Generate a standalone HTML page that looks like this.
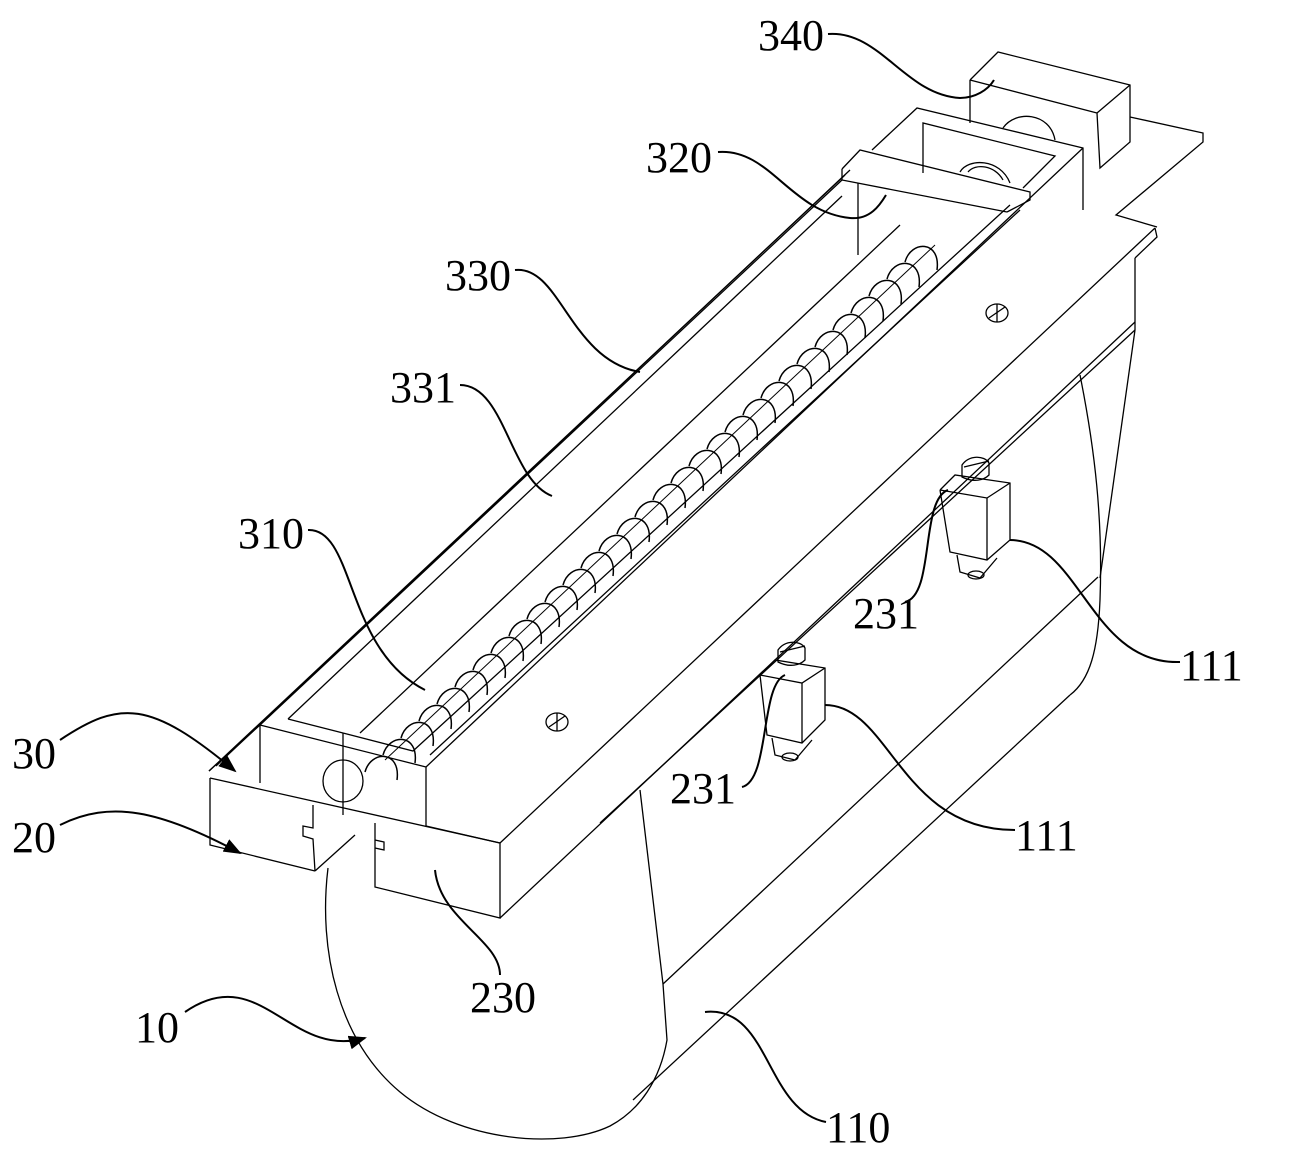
<!DOCTYPE html>
<html><head><meta charset="utf-8"><style>
html,body{margin:0;padding:0;background:#fff}
svg{display:block}
text{font-family:"Liberation Serif",serif;font-size:44px;fill:#000}
</style></head><body>
<svg width="1291" height="1159" viewBox="0 0 1291 1159" xmlns="http://www.w3.org/2000/svg">
<defs>
<marker id="ah" markerWidth="18" markerHeight="14" refX="16" refY="7" orient="auto" markerUnits="userSpaceOnUse" viewBox="0 0 18 14">
<path d="M0,0 L18,7 L0,14 z" fill="#000"/></marker>
</defs>
<g fill="none" stroke="#000" stroke-width="1.3">
<!-- cylinder -->
<path d="M328,868 C318,950 338,1040 400,1092 C460,1142 560,1150 610,1126 C640,1110 660,1080 667,1040 L663,984 L640,790"/>
<path d="M1080,375 C1095,450 1103,520 1100,600 C1098,650 1090,680 1070,695"/>
<line x1="663" y1="984" x2="1098" y2="577"/>
<line x1="633" y1="1100" x2="1070" y2="695"/>
<!-- base body -->
<polyline points="210,778 210,845 315,871"/>
<line x1="210" y1="778" x2="500" y2="843"/>
<polyline points="375,823 375,887 500,918 500,843"/>
<polyline points="313,805 313,828 303,826 303,836 313,839 315,871"/>
<polyline points="375,840 384,842 384,850 375,848"/>
<line x1="315" y1="871" x2="355" y2="835"/>
<line x1="500" y1="843" x2="1155" y2="228"/>
<line x1="500" y1="918" x2="1135" y2="322"/>
<line x1="600" y1="823" x2="1135" y2="330"/>
<line x1="1135" y1="258" x2="1135" y2="330"/>
<line x1="1135" y1="330" x2="1100" y2="578"/>
<polyline points="1155,228 1157,237 1135,258"/>
<!-- top plate right end -->
<polyline points="1130,117 1203,133 1203,142 1116,215 1157,227"/>
<!-- housing 30 -->
<line x1="209" y1="771" x2="845" y2="175"/>
<line x1="216" y1="766" x2="850" y2="170"/>
<polyline points="209,771 260,725 260,783"/>
<polyline points="260,725 426,767 426,826 500,843"/>
<line x1="343" y1="733" x2="343" y2="815"/>
<ellipse cx="343" cy="781" rx="20" ry="21"/>
<polyline points="288,719 343,733"/>
<line x1="288" y1="719" x2="842" y2="196"/>
<line x1="260" y1="725" x2="842" y2="180"/>
<polyline points="343,733 413,751 1010,205"/>
<line x1="360" y1="733" x2="900" y2="225"/>
<line x1="426" y1="767" x2="1083" y2="148"/>
<line x1="430" y1="755" x2="1020" y2="210"/>
<!-- frame & plate 320 -->
<polyline points="872,150 917,108 1083,148 1083,210"/>
<polyline points="923,173 923,123 1055,156 1023,188"/>
<polyline points="842,169 860,150 1030,192 1030,200 1007,212"/>
<polyline points="842,169 842,180 1007,212"/>
<line x1="858" y1="183" x2="858" y2="255"/>
<path d="M960,172 C968,158 1000,158 1010,183"/>
<path d="M968,172 C975,163 995,165 1003,180"/>
<!-- motor 340 -->
<polyline points="970,80 998,52 1130,85 1130,142 1100,168 1097,113 970,80"/>
<line x1="1097" y1="113" x2="1130" y2="85"/>
<line x1="970" y1="80" x2="970" y2="123"/>
<path d="M1003,128 C1015,110 1050,112 1055,140"/>
<!-- screw 310 -->
<path stroke-width="1.5" d="M365,772 c6,-22 36,-22 32,8 m-14,-25 c6,-22 36,-22 32,8 m-14,-25 c6,-22 36,-22 32,8 m-14,-25 c6,-22 36,-22 32,8 m-14,-25 c6,-22 36,-22 32,8 m-14,-25 c6,-22 36,-22 32,8 m-14,-25 c6,-22 36,-22 32,8 m-14,-25 c6,-22 36,-22 32,8 m-14,-25 c6,-22 36,-22 32,8 m-14,-25 c6,-22 36,-22 32,8 m-14,-25 c6,-22 36,-22 32,8 m-14,-25 c6,-22 36,-22 32,8 m-14,-25 c6,-22 36,-22 32,8 m-14,-25 c6,-22 36,-22 32,8 m-14,-25 c6,-22 36,-22 32,8 m-14,-25 c6,-22 36,-22 32,8 m-14,-25 c6,-22 36,-22 32,8 m-14,-25 c6,-22 36,-22 32,8 m-14,-25 c6,-22 36,-22 32,8 m-14,-25 c6,-22 36,-22 32,8 m-14,-25 c6,-22 36,-22 32,8 m-14,-25 c6,-22 36,-22 32,8 m-14,-25 c6,-22 36,-22 32,8 m-14,-25 c6,-22 36,-22 32,8 m-14,-25 c6,-22 36,-22 32,8 m-14,-25 c6,-22 36,-22 32,8 m-14,-25 c6,-22 36,-22 32,8 m-14,-25 c6,-22 36,-22 32,8 m-14,-25 c6,-22 36,-22 32,8 m-14,-25 c6,-22 36,-22 32,8 m-14,-25 c6,-22 36,-22 32,8"/>
<line x1="385" y1="760" x2="935" y2="245" stroke-width="1"/>
<!-- screws -->
<ellipse cx="557" cy="722" rx="11" ry="9"/><line x1="549" y1="727" x2="565" y2="716"/><line x1="557" y1="713" x2="557" y2="731"/>
<ellipse cx="997" cy="313" rx="11" ry="9"/><line x1="989" y1="318" x2="1005" y2="307"/><line x1="997" y1="304" x2="997" y2="322"/>
<!-- component 111 lower -->
<polyline points="760,675 775,660 825,668 825,720 802,743 767,735 760,675"/>
<polyline points="760,675 802,683 825,668"/>
<line x1="802" y1="683" x2="802" y2="743"/>
<polyline points="772,738 775,755 795,760 812,740"/>
<ellipse cx="790" cy="757" rx="8" ry="4"/>
<path d="M778,650 L778,662 C790,668 800,665 805,660 L805,648 C800,640 785,640 778,650 Z"/>
<line x1="780" y1="652" x2="805" y2="646"/>
<!-- component 111 upper -->
<polyline points="940,490 955,475 1010,483 1010,540 987,560 950,552 940,490"/>
<polyline points="940,490 987,498 1010,483"/>
<line x1="987" y1="498" x2="987" y2="560"/>
<polyline points="957,555 960,572 980,578 997,558"/>
<ellipse cx="976" cy="575" rx="8" ry="4"/>
<path d="M962,465 L962,477 C974,483 984,480 989,475 L989,463 C984,455 969,455 962,465 Z"/>
<line x1="964" y1="467" x2="989" y2="461"/>
</g>
<!-- leaders -->
<g fill="none" stroke="#000" stroke-width="2">
<path d="M828,34 C880,30 905,95 960,98 C975,98 988,90 994,80"/>
<path d="M718,152 C770,148 790,212 850,218 C870,220 880,205 886,195"/>
<path d="M515,270 C560,265 570,360 640,372"/>
<path d="M460,385 C505,385 510,480 552,496"/>
<path d="M308,530 C355,528 345,650 425,690"/>
<path d="M435,870 C440,920 500,940 500,975"/>
<path d="M705,1012 C770,1005 765,1110 826,1122"/>
<path d="M1010,540 C1080,540 1090,665 1180,662"/>
<path d="M825,705 C890,705 900,830 1015,830"/>
<path d="M948,490 C920,500 935,595 905,602"/>
<path d="M785,675 C760,685 770,780 742,787"/>
<path d="M60,740 C120,700 150,700 235,771" marker-end="url(#ah)"/>
<path d="M60,825 C110,800 160,810 240,853" marker-end="url(#ah)"/>
<path d="M185,1012 C260,960 290,1060 365,1038" marker-end="url(#ah)"/>
</g>
<text x="758" y="50">340</text>
<text x="646" y="172">320</text>
<text x="445" y="290">330</text>
<text x="390" y="402">331</text>
<text x="238" y="548">310</text>
<text x="12" y="768">30</text>
<text x="12" y="852">20</text>
<text x="135" y="1042">10</text>
<text x="470" y="1012">230</text>
<text x="826" y="1142">110</text>
<text x="1180" y="680">111</text>
<text x="1015" y="850">111</text>
<text x="853" y="628">231</text>
<text x="670" y="803">231</text>
</svg>
</body></html>
